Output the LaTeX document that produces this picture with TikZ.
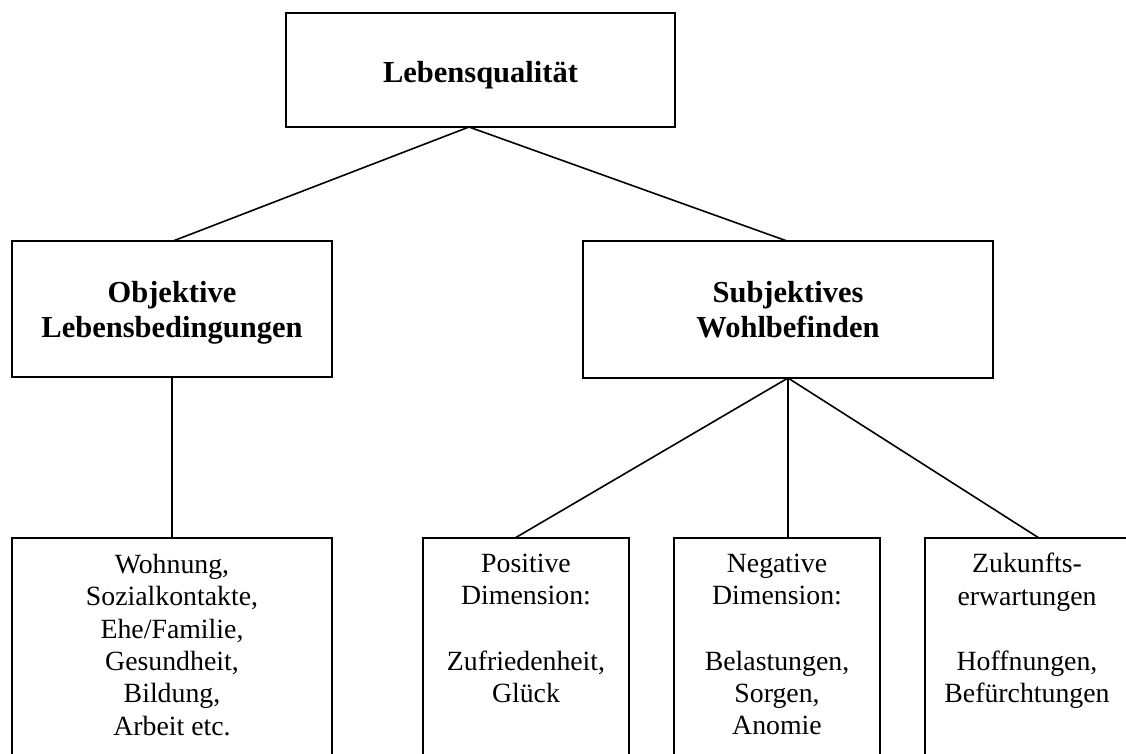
\documentclass[tikz,border=0pt]{standalone}
\usepackage{fontspec}
\setmainfont{Liberation Serif}
\begin{document}
\begin{tikzpicture}[x=1pt,y=-1pt,
  box/.style={draw, line width=2pt, rectangle, inner sep=0pt, outer sep=0pt},
  conn/.style={line width=1.6pt},
  headtext/.style={font=\fontsize{30.5}{35}\selectfont\bfseries, align=center, inner sep=0pt},
  bodytext/.style={font=\fontsize{27.8}{32.3}\selectfont, align=center, inner sep=0pt}]
\clip (0,0) rectangle (1126,753);
\fill[white] (0,0) rectangle (1126,753);
% boxes
\node[box, minimum width=389pt, minimum height=114pt] (top) at (480.5,70) {};
\node[box, minimum width=320pt, minimum height=136pt] (lm) at (172,309) {};
\node[box, minimum width=410pt, minimum height=137pt] (rm) at (788,309.5) {};
\node[box, minimum width=320pt, minimum height=262pt] (lb) at (172,669) {};
\node[box, minimum width=206pt, minimum height=262pt] (pos) at (526,669) {};
\node[box, minimum width=206pt, minimum height=262pt] (neg) at (777,669) {};
\node[box, minimum width=210pt, minimum height=262pt] (zuk) at (1030,669) {};
% texts
\node[headtext, anchor=base] (topt) at (480.5,82) {Lebensqualität};
\node[headtext, anchor=north] (lmt) at (172,281) {Objektive\\Lebensbedingungen};
\node[headtext, anchor=north] (rmt) at (788,281) {Subjektives\\Wohlbefinden};
\node[bodytext, anchor=north] (lbt) at (172,554) {Wohnung,\\Sozialkontakte,\\Ehe/Familie,\\Gesundheit,\\Bildung,\\Arbeit etc.};
\node[bodytext, anchor=north] (post) at (526,554) {Positive\\Dimension:\\[33pt]Zufriedenheit,\\Glück};
\node[bodytext, anchor=north] (negt) at (777,554) {Negative\\Dimension:\\[33pt]Belastungen,\\Sorgen,\\Anomie};
\node[bodytext, anchor=north] (zukt) at (1027,553) {Zukunfts-\\erwartungen\\[33pt]Hoffnungen,\\Befürchtungen};
% connectors
\draw[conn] ([xshift=-11.5pt]top.south) -- ([xshift=1pt]lm.north);
\draw[conn] ([xshift=-11.5pt]top.south) -- ([xshift=-1pt]rm.north);
\draw[conn] (lm.south) -- (lb.north);
\draw[conn] (rm.south) -- ([xshift=-11pt]pos.north);
\draw[conn] (rm.south) -- ([xshift=11pt]neg.north);
\draw[conn] (rm.south) -- ([xshift=9pt]zuk.north);
\end{tikzpicture}
\end{document}
